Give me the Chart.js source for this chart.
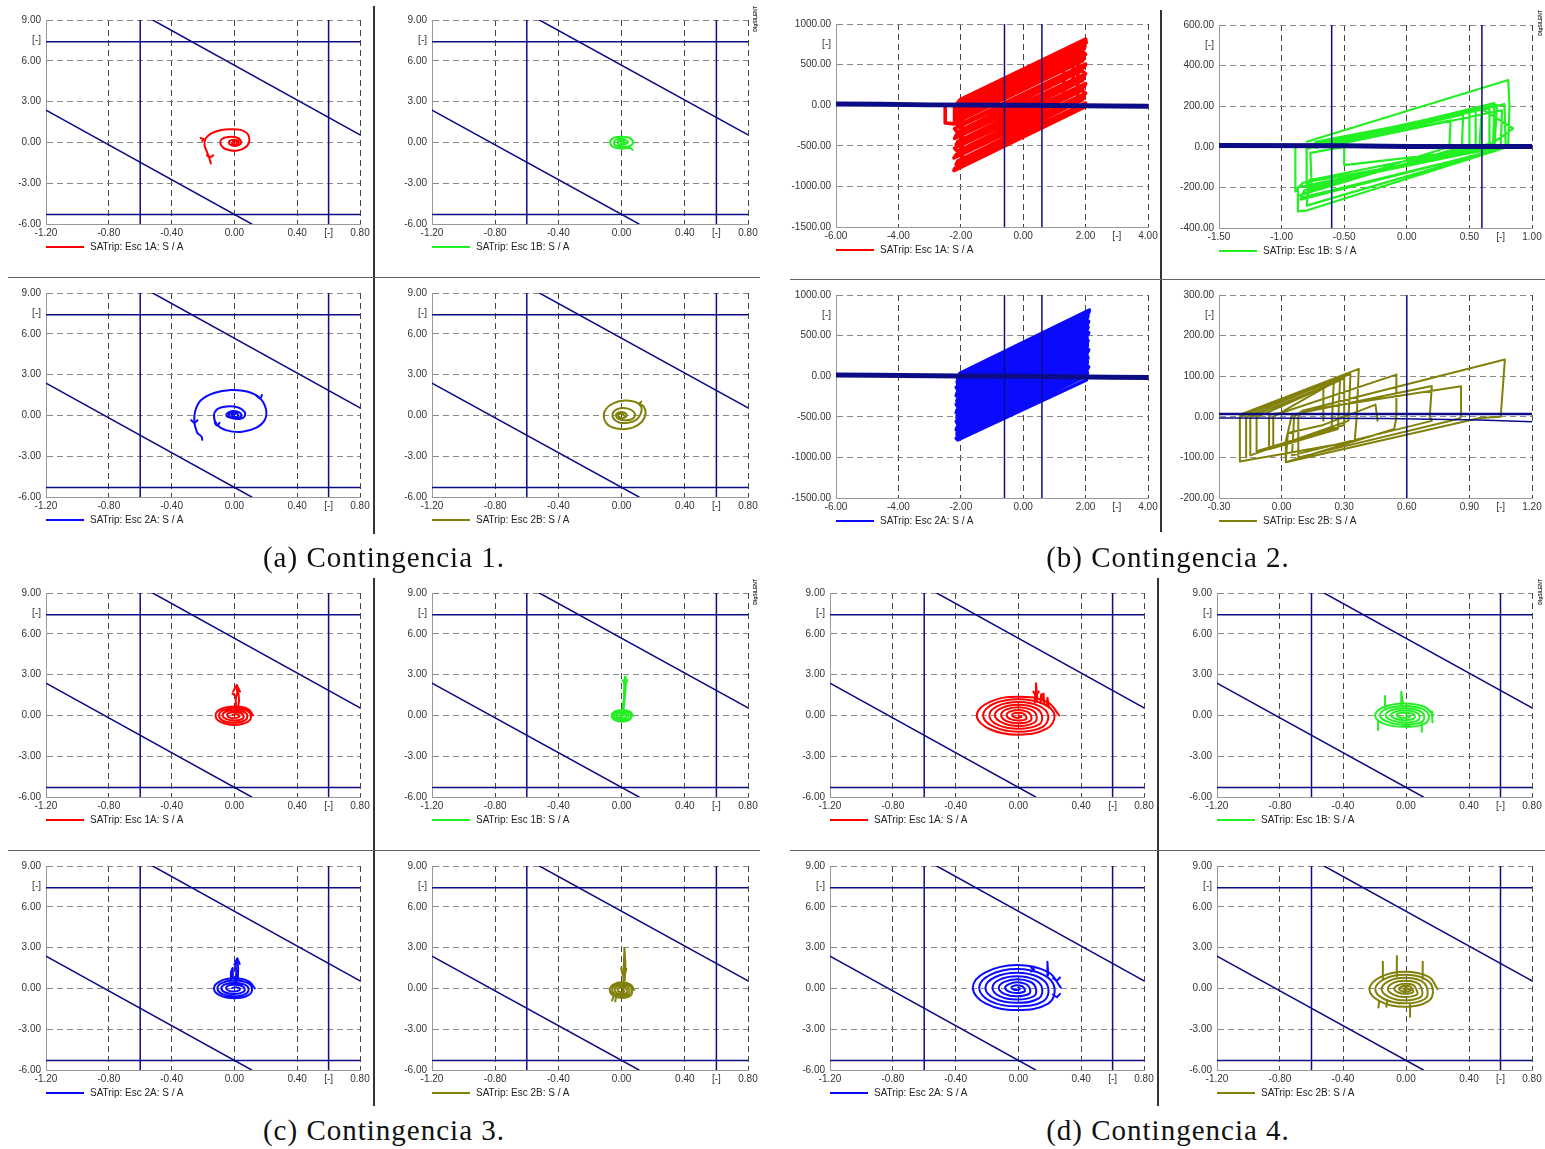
<!DOCTYPE html>
<html>
<head>
<meta charset="utf-8">
<script src="https://cdn.jsdelivr.net/npm/chart.js@4.4.1/dist/chart.umd.min.js"></script>
<style>
  body { margin: 0; background: #fff; }
  #fig { position: relative; width: 1545px; height: 1149px; overflow: hidden; }
  .cap { position: absolute; width: 500px; text-align: center; font: 29px 'Liberation Serif', serif; color: #111; letter-spacing: 1px; line-height: 32px; }
  .sep { position: absolute; }
  .lg { position: absolute; font: 10px 'Liberation Sans', Arial, sans-serif; color: #222; line-height: 12px; white-space: nowrap; }
  .lg i { display: inline-block; width: 38px; border-top: 2px solid; vertical-align: middle; margin-right: 6px; }
  .dig { position: absolute; writing-mode: vertical-rl; transform: rotate(180deg); font: bold 5px 'Liberation Sans', sans-serif; color: #333; }
</style>
</head>
<body>
<div id="fig"></div>
<script>
// ---- axes ticks ----
const puXTicks = [-1.2, -0.8, -0.4, 0, 0.4, 0.6, 0.8];
const puYTicks = [-6, -3, 0, 3, 6, 7.5, 9];
const wideXTicks = [-6, -4, -2, 0, 2, 3, 4];
const wideYTicks = [-1500, -1000, -500, 0, 500, 750, 1000];
const c2bXTicks = [-1.5, -1, -0.5, 0, 0.5, 0.75, 1];
const c2bYTicks = [-400, -200, 0, 200, 400, 500, 600];
const c2dXTicks = [-0.3, 0, 0.3, 0.6, 0.9, 1.05, 1.2];
const c2dYTicks = [-200, -100, 0, 100, 200, 250, 300];

// ---- protection limits (per-unit plane) ----
const limHigh = [[-1.2, 7.4], [0.8, 7.4]];
const limLow = [[-1.2, -5.3], [0.8, -5.3]];
const limLeft = [[-0.6, -6], [-0.6, 9]];
const limRight = [[0.6, -6], [0.6, 9]];
const diagUpper = [[-0.52, 9], [0.8, 0.55]];
const diagLower = [[-1.2, 2.38], [0.11, -6]];

// ---- limits for contingencia 2 ----
const wideLeft = [[-0.6, -1500], [-0.6, 1000]];
const wideRight = [[0.6, -1500], [0.6, 1000]];
const band1A = [[-6, 14], [-4.6, 12], [-3, 4], [0, -2], [2.8, -10], [4, -14]];
const band2A = [[-6, 14], [-4.8, 12], [-2, 4], [0, -2], [2.8, -12], [4, -16]];
const c2bLeft = [[-0.6, -400], [-0.6, 600]];
const c2bRight = [[0.6, -400], [0.6, 600]];
const band1B = [[-1.5, 6], [-0.5, 5], [0, 2], [1, 2]];
const c2dVert = [[0.6, -200], [0.6, 300]];
const band2Bhi = [[-0.3, 7], [1.2, 7]];
const band2Blo = [[-0.3, -3], [0.5, -4], [0.95, -8], [1.2, -12]];

// ---- contingencia 1 trajectories ----
const c1_1A = [
  [[-0.15,-1.55],[-0.16,-1.15],[-0.175,-0.7],[-0.19,-0.2],[-0.185,0.25],[-0.15,0.65],[-0.09,0.9],[-0.02,0.97],[0.04,0.92],[0.08,0.68],[0.095,0.3],[0.09,-0.1],[0.065,-0.4],[0.02,-0.6],[-0.03,-0.58],[-0.07,-0.4],[-0.09,-0.05],[-0.08,0.25],[-0.04,0.4],[0.01,0.38],[0.04,0.15],[0.04,-0.1],[0.015,-0.25],[-0.02,-0.2],[-0.035,0],[-0.02,0.17],[0.015,0.17],[0.028,0],[0.01,-0.14],[-0.015,-0.06],[0,0.08],[0.015,0.02]],
  [[-0.215,0.32],[-0.195,0.22],[-0.205,0.12]],
  [[-0.175,-0.95],[-0.155,-1.1],[-0.135,-0.95]]
];
const c1_1B = [
  [[0.07,-0.55],[0.055,-0.42],[0,-0.46],[-0.05,-0.35],[-0.072,0],[-0.05,0.33],[0,0.42],[0.05,0.33],[0.072,0],[0.05,-0.28],[0,-0.33],[-0.04,-0.22],[-0.048,0.05],[-0.03,0.22],[0,0.26],[0.03,0.16],[0.038,-0.05],[0.012,-0.17],[-0.02,-0.12],[-0.022,0.08],[0.008,0.12],[0.018,0],[0,-0.06],[-0.008,0.03]]
];
const c1_2A = [
  [[-0.205,-1.8],[-0.21,-1.55],[-0.235,-1.3],[-0.245,-1.0],[-0.255,-0.5],[-0.25,0.3],[-0.215,1.1],[-0.13,1.65],[-0.02,1.87],[0.08,1.76],[0.16,1.3],[0.2,0.5],[0.195,-0.3],[0.14,-0.9],[0.05,-1.2],[-0.05,-1.1],[-0.11,-0.7],[-0.13,-0.05],[-0.11,0.45],[-0.05,0.66],[0.02,0.6],[0.062,0.3],[0.066,-0.05],[0.04,-0.25],[0,-0.24],[-0.045,-0.1],[-0.05,0.1],[-0.02,0.3],[0.02,0.27],[0.045,0.05],[0.03,-0.16],[-0.01,-0.19],[-0.036,0],[-0.02,0.18],[0.015,0.16],[0.022,-0.04],[0,-0.11],[-0.016,0.05],[0.006,0.09]],
  [[-0.275,-0.35],[-0.255,-0.55],[-0.235,-0.35]],
  [[0.14,1.45],[0.165,1.25],[0.175,1.5]],
  [[-0.125,-0.55],[-0.11,-0.75],[-0.095,-0.55]]
];
const c1_2B = [
  [[0.125,1.02],[0.115,0.88],[0.14,0.65],[0.152,0.15],[0.13,-0.45],[0.07,-0.9],[-0.01,-1.0],[-0.08,-0.75],[-0.112,-0.15],[-0.1,0.45],[-0.05,0.9],[0.02,1.1],[0.09,0.98],[0.125,0.6],[0.12,0.1],[0.09,-0.35],[0.04,-0.55],[-0.02,-0.5],[-0.055,-0.15],[-0.05,0.28],[-0.01,0.52],[0.04,0.5],[0.075,0.28],[0.085,-0.02],[0.06,-0.3],[0.02,-0.36],[-0.02,-0.26],[-0.036,0],[-0.022,0.2],[0.01,0.23],[0.032,0.06],[0.022,-0.15],[-0.008,-0.16],[-0.022,0.04],[0,0.12],[0.016,0]]
];

// ---- contingencia 2 trajectories ----
const c2_1A = [
  [[-2.5,-10],[-2.5,-220],[-2.2,-230],[-2.2,-20],[-2.02,70],[2.0,815],[2.02,770],[-2.05,30],[-2.1,-10],[1.98,740],[1.96,700],[-2.1,-50],[-2.15,-90],[1.92,660],[2.0,625],[-2.12,-130],[-2.2,-170],[1.95,585],[1.9,545],[-2.15,-210],[-2.1,-250],[2.0,505],[1.95,465],[-2.2,-290],[-2.12,-330],[1.88,425],[2.0,385],[-2.15,-370],[-2.2,-410],[1.95,345],[1.9,305],[-2.1,-450],[-2.15,-490],[2.0,265],[1.95,225],[-2.2,-530],[-2.1,-570],[1.9,185],[2.0,145],[-2.15,-610],[-2.22,-650],[1.95,105],[1.9,65],[-2.1,-690],[-2.15,-730],[2.0,25],[1.96,-10],[-2.2,-780],[-2.22,-805],[1.98,-20]],
  [[-1.95,-700],[-1.95,-60]],
  [[-2.0,-600],[-2.0,-150]],
  [[1.6,300],[1.6,700]],
  [[1.75,120],[1.75,600]],
  [[1.3,150],[1.3,420]]
];
const c2_1B = [
  [[-0.8,25],[0.81,329],[0.82,200],[0.81,0],[-0.8,-314],[-0.87,-318],[-0.87,-200],[0.66,0],[0.66,190],[-0.73,25],[-0.73,-5],[0.78,210],[0.79,0],[-0.83,-177],[-0.89,-220],[-0.89,0],[-0.7,18],[0.6,195],[0.58,0],[-0.8,-200],[-0.8,-10],[-0.64,15],[0.72,205],[0.7,-5],[-0.76,-190],[-0.77,-30],[-0.5,0],[-0.5,-90],[0.52,-18],[0.5,0],[0.5,170],[-0.62,5],[0.35,130],[0.34,0],[-0.83,-230],[-0.85,-260],[0.62,-30],[0.64,0],[0.85,90],[0.6,185],[-0.68,10],[0.7,215],[0.69,20],[-0.82,-215],[-0.84,-250],[0.7,-20],[0.72,0],[-0.6,10],[0.55,185],[0.55,0],[-0.78,-165],[-0.8,-290],[0.75,-10],[0.76,180],[-0.66,-2],[0.45,160],[0.44,0],[-0.86,-240]]
];
const c2_2A = [
  [[-2.1,-30],[-2.1,-250],[-2.03,37],[2.12,815],[2.1,780],[-2.05,5],[-2.1,-30],[2.08,745],[2.05,710],[-2.12,-65],[-2.1,-100],[2.1,675],[2.06,640],[-2.15,-135],[-2.1,-170],[2.08,605],[2.05,570],[-2.12,-205],[-2.15,-240],[2.1,535],[2.06,500],[-2.1,-275],[-2.13,-310],[2.05,465],[2.08,430],[-2.15,-345],[-2.1,-380],[2.06,395],[2.05,360],[-2.12,-415],[-2.15,-450],[2.1,325],[2.06,290],[-2.1,-485],[-2.12,-520],[2.05,255],[2.08,220],[-2.15,-555],[-2.1,-590],[2.06,185],[2.05,150],[-2.12,-625],[-2.15,-660],[2.1,115],[2.05,80],[-2.1,-695],[-2.12,-730],[2.06,45],[2.04,10],[-2.15,-765],[-2.1,-785],[2.03,-45]],
  [[-2.0,-700],[-2.0,-50]],
  [[1.95,100],[1.95,760]],
  [[1.4,200],[1.4,500]]
];
const c2_2B = [
  [[-0.2,5],[0.37,118],[0.36,0],[0.35,-60],[-0.2,-110],[-0.2,0],[-0.15,10],[0.33,105],[0.32,-10],[-0.15,-95],[-0.15,0],[-0.1,10],[0.3,95],[0.3,-20],[-0.12,-85],[-0.12,0],[-0.08,8],[0.28,90],[0.27,-30],[-0.06,-80],[-0.06,5],[0,10],[0.55,104],[0.55,0],[0.54,-30],[0.02,-112],[0.02,-60],[0.05,5],[0.72,76],[0.71,0],[0.72,-10],[0.05,-95],[0.06,0],[0.1,15],[0.86,75],[0.86,0],[0.85,-5],[0.08,-100],[0.08,0],[0.1,15],[1.07,141],[1.05,0],[0.95,-3],[0.02,-112],[0.03,-40],[0.2,-20],[0.45,30],[0.46,-10]],
  [[-0.17,-100],[-0.17,0],[0.2,80],[0.2,-10]],
  [[-0.04,-70],[-0.04,0],[0.25,85],[0.24,-25]]
];

// ---- contingencia 3 trajectories ----
const c3_1A = [
  [[0.12,0],[0.085,0.48],[0,0.65],[-0.085,0.47],[-0.12,0],[-0.085,-0.5],[0,-0.7],[0.085,-0.48],[0.105,0],[0.075,0.38],[0,0.52],[-0.072,0.37],[-0.098,0],[-0.07,-0.4],[0,-0.54],[0.066,-0.37],[0.082,0],[0.058,0.27],[0,0.37],[-0.056,0.27],[-0.075,0],[-0.052,-0.27],[0,-0.37],[0.05,-0.26],[0.058,0],[0.04,0.18],[0,0.23],[-0.038,0.16],[-0.046,0],[-0.03,-0.16],[0,-0.2],[0.028,-0.13],[0.03,0],[0.012,0.08],[-0.012,0.02]]
];
const c3_1Aspk = [
  [[0.005,0.35],[0.01,0.9],[0.008,1.3],[0.018,1.65],[0.015,2.2],[0.026,1.6],[0.03,1.1],[0.022,0.5]],
  [[-0.008,1.75],[0.015,2.24],[0.036,1.75]],
  [[-0.012,1.6],[0.005,1.45]]
];
const c3_1B = [
  [[0.074,-0.03],[0.053,0.27],[0.005,0.4],[-0.045,0.27],[-0.063,-0.03],[-0.045,-0.33],[0.005,-0.46],[0.052,-0.32],[0.06,-0.03],[0.043,0.2],[0.005,0.3],[-0.036,0.2],[-0.05,-0.03],[-0.035,-0.26],[0.005,-0.36],[0.04,-0.25],[0.044,-0.03],[0.03,0.13],[0.005,0.19],[-0.024,0.12],[-0.034,-0.03],[-0.022,-0.17],[0.005,-0.23],[0.028,-0.15],[0.025,-0.03],[0.005,0.05],[-0.012,-0.04],[0.005,-0.1]]
];
const c3_1Bspk = [
  [[0.007,0.3],[0.01,1.0],[0.015,1.8],[0.022,2.85],[0.026,2.0],[0.018,1.0],[0.012,0.35]],
  [[0.008,2.6],[0.022,2.2],[0.036,2.6]]
];
const c3_2A = [
  [[0.13,0],[0.092,0.52],[0,0.74],[-0.092,0.52],[-0.13,0],[-0.092,-0.52],[0,-0.73],[0.09,-0.5],[0.112,0],[0.08,0.42],[0,0.58],[-0.078,0.41],[-0.108,0],[-0.076,-0.42],[0,-0.58],[0.072,-0.4],[0.09,0],[0.062,0.3],[0,0.42],[-0.06,0.3],[-0.083,0],[-0.058,-0.3],[0,-0.41],[0.055,-0.28],[0.065,0],[0.044,0.19],[0,0.26],[-0.042,0.18],[-0.052,0],[-0.034,-0.18],[0,-0.23],[0.03,-0.15],[0.034,0],[0.012,0.09],[-0.014,0.02]]
];
const c3_2Aspk = [
  [[0.008,0.4],[0.012,1.2],[0.008,1.7],[0.018,2.2],[0.024,1.5],[0.022,0.6]],
  [[-0.025,0.6],[-0.022,1.2],[-0.012,1.5],[-0.01,0.8]],
  [[0,1.75],[0.018,2.2],[0.034,1.8]]
];
const c3_2B = [
  [[0.08,-0.12],[0.057,0.28],[0.003,0.45],[-0.052,0.28],[-0.075,-0.12],[-0.053,-0.52],[0.003,-0.7],[0.057,-0.52],[0.066,-0.12],[0.047,0.2],[0.003,0.33],[-0.042,0.2],[-0.06,-0.12],[-0.042,-0.43],[0.003,-0.56],[0.046,-0.42],[0.05,-0.12],[0.035,0.12],[0.003,0.21],[-0.03,0.12],[-0.044,-0.12],[-0.03,-0.34],[0.003,-0.42],[0.034,-0.32],[0.034,-0.12],[0.02,0.03],[0.003,0.08],[-0.016,0.02],[-0.026,-0.12],[-0.016,-0.24],[0.003,-0.28],[0.018,-0.2],[0.012,-0.12]]
];
const c3_2Bspk = [
  [[0.007,-0.6],[0.01,0.4],[0.012,1.3],[0.018,2.95],[0.024,1.8],[0.02,0.6]],
  [[-0.003,1.5],[0.006,1.0]],
  [[0.03,1.45],[0.02,1.0]],
  [[-0.05,-0.55],[-0.06,-0.9]],
  [[-0.035,-0.6],[-0.04,-0.95]]
];

// ---- contingencia 4 trajectories ----
const c4_1A = [
  [[0.26,0],[0.185,0.98],[0,1.38],[-0.185,0.98],[-0.265,0],[-0.185,-1.0],[0,-1.42],[0.18,-0.98],
   [0.23,0],[0.16,0.84],[0,1.18],[-0.16,0.84],[-0.225,0],[-0.155,-0.85],[0,-1.2],[0.155,-0.84],
   [0.19,0],[0.13,0.7],[0,0.98],[-0.13,0.7],[-0.185,0],[-0.13,-0.7],[0,-0.98],[0.13,-0.68],
   [0.15,0],[0.105,0.56],[0,0.78],[-0.105,0.55],[-0.15,0],[-0.1,-0.55],[0,-0.78],[0.1,-0.54],
   [0.115,0],[0.08,0.42],[0,0.6],[-0.08,0.42],[-0.11,0],[-0.075,-0.42],[0,-0.58],[0.075,-0.4],
   [0.08,0],[0.055,0.28],[0,0.4],[-0.055,0.28],[-0.075,0],[-0.05,-0.28],[0,-0.38],[0.05,-0.26],
   [0.045,0],[0.03,0.15],[0,0.2],[-0.03,0.15],[-0.04,0],[-0.025,-0.14],[0,-0.18],[0.02,-0.1],[0,0]]
];
const c4_1Aspk = [
  [[0.105,0.95],[0.108,1.7],[0.112,2.36],[0.118,1.6],[0.12,1.0]],
  [[0.095,1.75],[0.112,1.45],[0.13,1.75]],
  [[0.14,0.9],[0.145,1.55],[0.15,1.1],[0.16,1.6],[0.165,0.85]],
  [[0.18,0.7],[0.185,1.3],[0.195,0.6]]
];
const c4_1B = [
  [[0.175,0],[0.12,0.62],[-0.01,0.88],[-0.14,0.62],[-0.196,0],[-0.14,-0.6],[-0.01,-0.84],[0.12,-0.6],
   [0.145,0],[0.1,0.5],[-0.01,0.7],[-0.12,0.5],[-0.165,0],[-0.115,-0.48],[-0.01,-0.68],[0.1,-0.48],
   [0.115,0],[0.078,0.38],[-0.01,0.53],[-0.095,0.38],[-0.13,0],[-0.09,-0.37],[-0.01,-0.52],[0.075,-0.36],
   [0.085,0],[0.055,0.26],[-0.01,0.36],[-0.07,0.26],[-0.095,0],[-0.065,-0.25],[-0.01,-0.35],[0.05,-0.24],
   [0.055,0],[0.035,0.15],[-0.01,0.2],[-0.05,0.14],[-0.06,0],[-0.04,-0.14],[-0.01,-0.18],[0.025,-0.1],[0,0]]
];
const c4_1Bspk = [
  [[-0.133,0.55],[-0.133,1.43]],
  [[-0.027,0.8],[-0.03,1.74],[-0.02,0.9]],
  [[-0.177,-0.4],[-0.177,-1.07]],
  [[0.1,-0.55],[0.1,-1.2]],
  [[0.165,0.3],[0.168,-0.5]]
];
const c4_2A = [
  [[0.27,0.05],[0.19,1.2],[-0.01,1.72],[-0.21,1.18],[-0.29,0.05],[-0.21,-1.1],[-0.01,-1.59],[0.19,-1.12],
   [0.23,0.05],[0.16,1.0],[-0.01,1.42],[-0.18,1.0],[-0.25,0.05],[-0.18,-0.93],[-0.01,-1.32],[0.16,-0.93],
   [0.19,0.05],[0.13,0.82],[-0.01,1.15],[-0.15,0.82],[-0.21,0.05],[-0.15,-0.75],[-0.01,-1.06],[0.13,-0.74],
   [0.15,0.05],[0.1,0.66],[-0.01,0.9],[-0.12,0.65],[-0.165,0.05],[-0.12,-0.57],[-0.01,-0.82],[0.1,-0.56],
   [0.11,0.05],[0.075,0.49],[-0.01,0.68],[-0.09,0.48],[-0.125,0.05],[-0.09,-0.4],[-0.01,-0.58],[0.07,-0.38],
   [0.07,0.05],[0.045,0.33],[-0.01,0.45],[-0.06,0.32],[-0.085,0.05],[-0.06,-0.24],[-0.01,-0.34],[0.04,-0.22],
   [0.035,0.05],[0.02,0.18],[-0.01,0.24],[-0.035,0.17],[-0.045,0.05],[-0.03,-0.08],[-0.01,-0.12],[0.01,-0.04],[0,0.05]]
];
const c4_2Aspk = [
  [[0.184,0.9],[0.185,1.96],[0.19,1.0]],
  [[0.22,0.75],[0.245,0.55],[0.265,0.8]],
  [[0.22,-0.45],[0.245,-0.65],[0.265,-0.4]],
  [[0.08,1.55],[0.1,1.4],[0.08,1.25]]
];
const c4_2B = [
  [[0.2,-0.05],[0.145,0.85],[-0.01,1.23],[-0.16,0.85],[-0.232,-0.05],[-0.165,-0.95],[-0.01,-1.35],[0.14,-0.95],
   [0.17,-0.05],[0.12,0.7],[-0.01,1.0],[-0.135,0.7],[-0.195,-0.05],[-0.14,-0.78],[-0.01,-1.1],[0.12,-0.78],
   [0.135,-0.05],[0.095,0.55],[-0.01,0.78],[-0.11,0.54],[-0.155,-0.05],[-0.11,-0.62],[-0.01,-0.88],[0.095,-0.62],
   [0.1,-0.05],[0.07,0.4],[-0.01,0.56],[-0.08,0.4],[-0.115,-0.05],[-0.08,-0.46],[-0.01,-0.64],[0.07,-0.45],
   [0.065,-0.05],[0.045,0.25],[-0.005,0.34],[-0.05,0.24],[-0.075,-0.05],[-0.05,-0.3],[-0.005,-0.4],[0.045,-0.28],
   [0.04,-0.05],[0.03,0.12],[0,0.2],[-0.03,0.12],[-0.045,-0.05],[-0.03,-0.18],[0,-0.24],[0.03,-0.16],[0.015,-0.05],[0,0.05],[-0.015,-0.05],[0,-0.1]]
];
const c4_2Bspk = [
  [[-0.147,0.7],[-0.147,1.96]],
  [[-0.058,0.9],[-0.058,2.38]],
  [[0.106,0.7],[0.106,1.96]],
  [[0.026,-1.2],[0.026,-2.08]],
  [[-0.17,-0.9],[-0.175,-1.4]],
  [[-0.12,-1.0],[-0.125,-1.35]]
];

// ---- styling ----
const RED = '#ff0000', GREEN = '#22f022', BLUE = '#0a0aff', OLIVE = '#80800a', NAVY = '#0c0c86';
const YW = 60, PT = 10, PR = 18, XH = 18;

const AXES = {
  pu:   { x: [-1.2, 0.8], xt: puXTicks, xu: 0.6, y: [-6, 9], yt: puYTicks, yu: 7.5 },
  wide: { x: [-6, 4], xt: wideXTicks, xu: 3, y: [-1500, 1000], yt: wideYTicks, yu: 750 },
  c2b:  { x: [-1.5, 1], xt: c2bXTicks, xu: 0.75, y: [-400, 600], yt: c2bYTicks, yu: 500 },
  c2d:  { x: [-0.3, 1.2], xt: c2dXTicks, xu: 1.05, y: [-200, 300], yt: c2dYTicks, yu: 250 }
};

const puLimits = [
  { pts: limHigh, w: 1.5 }, { pts: limLow, w: 1.5 }, { pts: limLeft, w: 1.5 },
  { pts: limRight, w: 1.5 }, { pts: diagUpper, w: 1.5 }, { pts: diagLower, w: 1.5 }
];

const panels = [
  // (a) contingencia 1
  { x: 46, y: 20, w: 314, h: 204, kind: 'pu', lim: puLimits, color: RED, label: 'SATrip: Esc 1A: S / A', curves: c1_1A },
  { x: 432, y: 20, w: 316, h: 204, kind: 'pu', lim: puLimits, color: GREEN, label: 'SATrip: Esc 1B: S / A', curves: c1_1B },
  { x: 46, y: 293, w: 314, h: 204, kind: 'pu', lim: puLimits, color: BLUE, label: 'SATrip: Esc 2A: S / A', curves: c1_2A },
  { x: 432, y: 293, w: 316, h: 204, kind: 'pu', lim: puLimits, color: OLIVE, label: 'SATrip: Esc 2B: S / A', curves: c1_2B },
  // (b) contingencia 2
  { x: 836, y: 24, w: 312, h: 203, kind: 'wide', lim: [{ pts: wideLeft, w: 1.5 }, { pts: wideRight, w: 1.5 }, { pts: band1A, w: 5 }], color: RED, label: 'SATrip: Esc 1A: S / A', lines: c2_1A, lw: 3.6 },
  { x: 1219, y: 25, w: 313, h: 203, kind: 'c2b', lim: [{ pts: c2bLeft, w: 1.5 }, { pts: c2bRight, w: 1.5 }, { pts: band1B, w: 5 }], color: GREEN, label: 'SATrip: Esc 1B: S / A', lines: c2_1B, lw: 2.2 },
  { x: 836, y: 295, w: 312, h: 203, kind: 'wide', lim: [{ pts: wideLeft, w: 1.5 }, { pts: wideRight, w: 1.5 }, { pts: band2A, w: 5 }], color: BLUE, label: 'SATrip: Esc 2A: S / A', lines: c2_2A, lw: 3.4 },
  { x: 1219, y: 295, w: 313, h: 203, kind: 'c2d', lim: [{ pts: c2dVert, w: 1.5 }, { pts: band2Bhi, w: 2.5 }, { pts: band2Blo, w: 1.5 }], color: OLIVE, label: 'SATrip: Esc 2B: S / A', lines: c2_2B, lw: 2 },
  // (c) contingencia 3
  { x: 46, y: 593, w: 314, h: 204, kind: 'pu', lim: puLimits, color: RED, label: 'SATrip: Esc 1A: S / A', curves: c3_1A, spikes: c3_1Aspk },
  { x: 432, y: 593, w: 316, h: 204, kind: 'pu', lim: puLimits, color: GREEN, label: 'SATrip: Esc 1B: S / A', curves: c3_1B, spikes: c3_1Bspk },
  { x: 46, y: 866, w: 314, h: 204, kind: 'pu', lim: puLimits, color: BLUE, label: 'SATrip: Esc 2A: S / A', curves: c3_2A, spikes: c3_2Aspk },
  { x: 432, y: 866, w: 316, h: 204, kind: 'pu', lim: puLimits, color: OLIVE, label: 'SATrip: Esc 2B: S / A', curves: c3_2B, spikes: c3_2Bspk },
  // (d) contingencia 4
  { x: 830, y: 593, w: 314, h: 204, kind: 'pu', lim: puLimits, color: RED, label: 'SATrip: Esc 1A: S / A', curves: c4_1A, spikes: c4_1Aspk },
  { x: 1217, y: 593, w: 315, h: 204, kind: 'pu', lim: puLimits, color: GREEN, label: 'SATrip: Esc 1B: S / A', curves: c4_1B, spikes: c4_1Bspk },
  { x: 830, y: 866, w: 314, h: 204, kind: 'pu', lim: puLimits, color: BLUE, label: 'SATrip: Esc 2A: S / A', curves: c4_2A, spikes: c4_2Aspk },
  { x: 1217, y: 866, w: 315, h: 204, kind: 'pu', lim: puLimits, color: OLIVE, label: 'SATrip: Esc 2B: S / A', curves: c4_2B, spikes: c4_2Bspk }
];

const captions = [
  { text: '(a) Contingencia 1.', cx: 384, top: 541 },
  { text: '(b) Contingencia 2.', cx: 1168, top: 541 },
  { text: '(c) Contingencia 3.', cx: 384, top: 1114 },
  { text: '(d) Contingencia 4.', cx: 1168, top: 1114 }
];

Chart.defaults.font.family = "'Liberation Sans', Arial, sans-serif";
Chart.defaults.font.size = 10;
Chart.defaults.color = '#333';

const fig = document.getElementById('fig');

function scaleOpts(range, ticks, unit, horizontal, gridColor) {
  return {
    type: 'linear',
    min: range[0], max: range[1],
    afterBuildTicks: s => { s.ticks = ticks.map(v => ({ value: v })); },
    afterFit: s => {
      if (horizontal) { s.height = XH; s.paddingLeft = 0; s.paddingRight = 0; }
      else { s.width = YW; s.paddingTop = 0; s.paddingBottom = 0; }
    },
    ticks: {
      autoSkip: false, maxRotation: 0, padding: horizontal ? 3 : 5,
      callback: v => v === unit ? '[-]' : v.toFixed(2)
    },
    grid: {
      drawTicks: false, lineWidth: 1,
      color: c => (c.tick && c.tick.value === unit) ? 'rgba(0,0,0,0)' : gridColor
    },
    border: { color: '#999', width: 1, dash: [6, 4] }
  };
}

function line(data, color, width, tension, order) {
  return { data, borderColor: color, borderWidth: width, showLine: true, pointRadius: 0,
           tension, order, borderJoinStyle: 'round', borderCapStyle: 'round' };
}

panels.forEach(p => {
  const ax = AXES[p.kind];
  const cw = YW + p.w + PR, ch = PT + p.h + XH;
  const cv = document.createElement('canvas');
  cv.width = cw; cv.height = ch;
  cv.style.cssText = `position:absolute;left:${p.x - YW}px;top:${p.y - PT}px;width:${cw}px;height:${ch}px`;
  fig.appendChild(cv);

  const datasets = [];
  p.lim.forEach(l => datasets.push(line(l.pts, NAVY, l.w, 0, 0)));
  (p.curves || []).forEach(c => datasets.push(line(c, p.color, 2, 0.4, 1)));
  (p.spikes || []).forEach(c => datasets.push(line(c, p.color, 2, 0, 1)));
  (p.lines || []).forEach(c => datasets.push(line(c, p.color, p.lw, 0, 1)));

  new Chart(cv, {
    type: 'scatter',
    data: { datasets },
    options: {
      responsive: false, animation: false, devicePixelRatio: 1, events: [],
      layout: { padding: { left: 0, top: PT, right: PR, bottom: 0 } },
      plugins: { legend: { display: false }, tooltip: { enabled: false } },
      scales: {
        x: scaleOpts(ax.x, ax.xt, ax.xu, true, '#444'),
        y: scaleOpts(ax.y, ax.yt, ax.yu, false, '#888')
      }
    }
  });

  const lg = document.createElement('div');
  lg.className = 'lg';
  lg.style.left = p.x + 'px';
  lg.style.top = (p.y + p.h + 17) + 'px';
  lg.innerHTML = `<i style="border-color:${p.color}"></i>${p.label}`;
  fig.appendChild(lg);
});

// panel separators
[
  [373, 6, 2, 528, '#333'], [8, 277, 752, 1, '#666'],
  [1160, 10, 2, 522, '#333'], [790, 279, 755, 1, '#666'],
  [373, 578, 2, 528, '#333'], [8, 850, 752, 1, '#666'],
  [1157, 578, 2, 528, '#333'], [790, 850, 755, 1, '#666']
].forEach(([l, t, w, h, c]) => {
  const d = document.createElement('div');
  d.className = 'sep';
  d.style.cssText = `left:${l}px;top:${t}px;width:${w}px;height:${h}px;background:${c}`;
  fig.appendChild(d);
});

[[752, 6], [1537, 10], [752, 579], [1537, 579]].forEach(([l, t]) => {
  const d = document.createElement('div');
  d.className = 'dig';
  d.style.left = l + 'px'; d.style.top = t + 'px';
  d.textContent = 'DIgSILENT';
  fig.appendChild(d);
});

captions.forEach(c => {
  const d = document.createElement('div');
  d.className = 'cap';
  d.style.left = (c.cx - 250) + 'px';
  d.style.top = c.top + 'px';
  d.textContent = c.text;
  fig.appendChild(d);
});
</script>
</body>
</html>
